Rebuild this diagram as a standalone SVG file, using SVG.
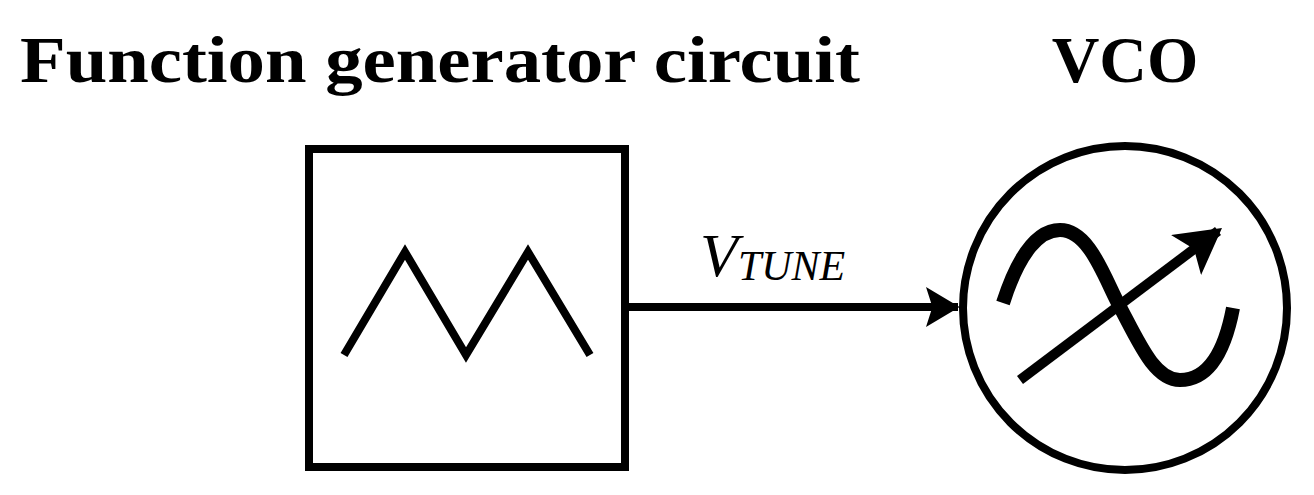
<svg xmlns="http://www.w3.org/2000/svg" width="1314" height="495" viewBox="0 0 1314 495">
<style>
.t{font-family:"Liberation Serif",serif;font-weight:bold;font-size:66px;fill:#000}
.s{fill:none;stroke:#000}
</style>
<defs><marker id="ah" markerWidth="6" markerHeight="6" refX="4" refY="2.5" orient="auto" markerUnits="strokeWidth"><path d="M0,0 L4.2,2.5 L0,5 L0.8,2.5 Z" fill="#000"/></marker>
<marker id="ah2" markerWidth="5" markerHeight="5" refX="4" refY="2.5" orient="auto" markerUnits="strokeWidth"><path d="M0,0 L4.5,2.5 L0,5 L1,2.5 Z" fill="#000"/></marker></defs>
<rect width="1314" height="495" fill="#fff"/>
<text class="t" x="20" y="82" textLength="840" lengthAdjust="spacingAndGlyphs">Function generator circuit</text>
<text class="t" x="1125" y="82" text-anchor="middle">VCO</text>
<g id="generator">
<rect class="s" x="309" y="149" width="316" height="318" stroke-width="8"/>
<polyline class="s" stroke-width="8" points="344,355 405,252 466,355 528,252 590,355"/>
</g>
<g id="vco">
<circle class="s" cx="1125" cy="308" r="162" stroke-width="8"/>
<path class="s" stroke-width="14" d="M1003,303 C1020,250 1040,230 1060,230 C1090,230 1105,280 1120,307 C1140,345 1155,380 1180,380 C1210,380 1225,350 1233,308"/>
<line class="s" stroke-width="10" x1="1020" y1="380" x2="1218" y2="231" marker-end="url(#ah2)"/>
</g>
<g id="connectors">
<line class="s" stroke-width="8" x1="629" y1="307" x2="958" y2="307" marker-end="url(#ah)"/>
<text x="700" y="276" font-family="Liberation Serif,serif" font-style="italic" font-size="62">V<tspan font-size="42" dy="4">TUNE</tspan></text>
</g>
</svg>
